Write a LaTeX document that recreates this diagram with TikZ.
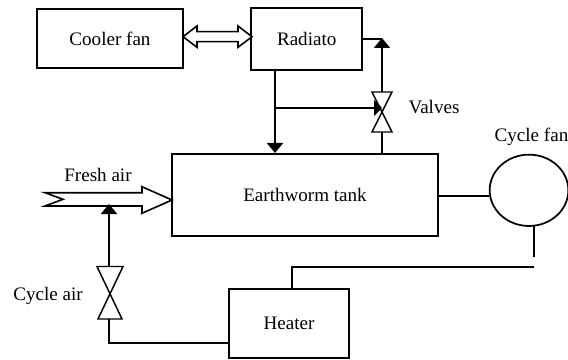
\documentclass[tikz,border=0pt]{standalone}
\usepackage{fontspec}
\setmainfont{Liberation Serif}
\usetikzlibrary{arrows.meta,shapes.geometric}
\tikzset{
  px/.style={x=0.75pt,y=-0.75pt},
  wire/.style={draw=black,line width=1.5pt,line join=miter},
  head/.style={wire,-{Triangle[length=7.5pt,width=12pt]}},
  shorthead/.style={wire,-{Triangle[length=6pt,width=12pt]}},
  block/.style={draw=black,line width=1.5pt,fill=white,inner sep=0pt,align=center,font=\fontsize{14.3pt}{17pt}\selectfont},
  caption/.style={inner sep=0pt,font=\fontsize{14.3pt}{17pt}\selectfont},
  hollow/.style={draw=black,line width=1.2pt,fill=white,line join=miter},
  valve/.style={draw=black,line width=1.1pt,line join=miter}
}
\begin{document}
\begin{tikzpicture}[px]
\useasboundingbox (0,0) rectangle (568,360);
% blocks
\node[block,minimum width=109.5pt,minimum height=44.5pt] (cooler) at (110,38.5) {Cooler fan};
\node[block,minimum width=83pt,minimum height=46.5pt] (radiato) at (306.7,39) {Radiato};
\node[block,minimum width=199.5pt,minimum height=61.5pt] (tank) at (305,195) {Earthworm tank};
\node[block,minimum width=90pt,minimum height=52pt] (heater) at (289,323.5) {Heater};
\node[draw=black,line width=1.3pt,ellipse,inner sep=0pt,minimum width=59pt,minimum height=53.5pt] (fan) at (529,190.3) {};
% captions
\node[caption] (lfresh) at (98,175) {Fresh air};
\node[caption] (lcycle) at (48,296) {Cycle air};
\node[caption] (lvalves) at (434,107) {Valves};
\node[caption] (lfan) at (531.5,137) {Cycle fan};
% junction and valve coordinates
\coordinate (j1) at (275,108);
\coordinate (vt) at (382,92);
\coordinate (vj) at (382,108);
\coordinate (vb) at (382,132);
\coordinate (rup) at (382,38);
\coordinate (rside) at (382,39);
\coordinate (tankfan) at (438,196);
\coordinate (at) at (109,266.5);
\coordinate (ab) at (109,319);
\coordinate (ajoin) at (109,204);
\coordinate (acorner) at (109,343);
\coordinate (fanstart) at (534,226);
\coordinate (fanend) at (534,257);
\coordinate (hcorner) at (292,267);
\coordinate (hend) at (534,267);
% connectors
\draw[head] (j1 |- radiato.south) -- (j1 |- tank.north);
\draw[shorthead] (j1) -- (vj);
\draw[wire] (vb) -- (vb |- tank.north);
\draw[head] (vt) -- (rup);
\draw[wire] (radiato.east |- rside) -- (rside);
\draw[wire] (tankfan) -- (fan.west |- tankfan);
\draw[wire] (fanstart) -- (fanend);
\draw[wire] (hend) -- (hcorner) -- (hcorner |- heater.north);
\draw[wire] (heater.west |- acorner) -- (acorner) -- (ab);
% hollow arrows
\draw[hollow] (183,36.7) -- (197,26) -- (197,31.7) -- (238,31.7) -- (238,26) -- (252,36.7)
  -- (238,47.3) -- (238,41.7) -- (197,41.7) -- (197,47.3) -- cycle;
\draw[hollow] (45,192.7) -- (142,192.7) -- (142,186.7) -- (172,200) -- (142,213.3) -- (142,206)
  -- (45,206) -- (63,199.3) -- cycle;
\draw[head] (at) -- (ajoin);
% valves
\draw[valve] (372,92) -- (392,92) -- (372,132) -- (392,132) -- cycle;
\draw[valve] (97,266.5) -- (123,266.5) -- (98,319) -- (122,319) -- cycle;
\end{tikzpicture}
\end{document}
